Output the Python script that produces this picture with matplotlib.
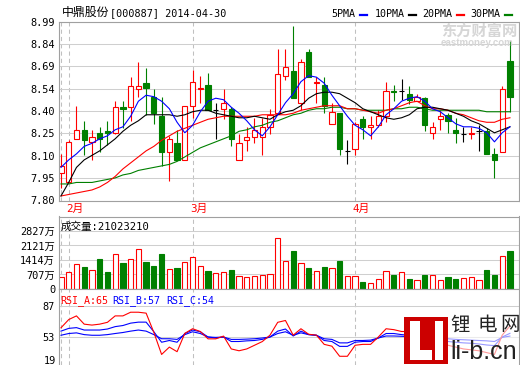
import numpy as np
import matplotlib
matplotlib.use('Agg')
import matplotlib.pyplot as plt
from matplotlib.patches import Rectangle
from matplotlib.lines import Line2D
from matplotlib.transforms import blended_transform_factory

plt.rcParams['font.family'] = ['DejaVu Sans Mono', 'Noto Sans CJK SC']
plt.rcParams['font.size'] = 7.2

title_name = '中鼎股份'
title_code = '[000887] 2014-04-30'
vol_title = '成交量:21023210'

# daily candles, 2014-01-30 .. 2014-04-30
opens = [7.98, 7.92, 8.21, 8.27, 8.19, 8.25, 8.26, 8.25, 8.42, 8.42,
         8.54, 8.58, 8.49, 8.36, 8.12, 8.18, 8.07, 8.43, 8.54, 8.57,
         8.40, 8.41, 8.41, 8.07, 8.20, 8.22, 8.22, 8.29, 8.38, 8.63,
         8.66, 8.45, 8.79, 8.58, 8.57, 8.31, 8.38, 8.13, 8.14, 8.34,
         8.29, 8.30, 8.36, 8.53, 8.53, 8.51, 8.46, 8.48, 8.25, 8.34,
         8.37, 8.27, 8.24, 8.24, 8.26, 8.26, 8.11, 8.12, 8.73]
highs = [8.11, 8.20, 8.43, 8.33, 8.27, 8.29, 8.33, 8.46, 8.46, 8.62,
         8.72, 8.68, 8.54, 8.49, 8.23, 8.27, 8.43, 8.67, 8.63, 8.65,
         8.45, 8.54, 8.42, 8.24, 8.29, 8.35, 8.35, 8.41, 8.81, 8.81,
         8.96, 8.74, 8.81, 8.62, 8.62, 8.45, 8.38, 8.20, 8.32, 8.36,
         8.36, 8.40, 8.59, 8.57, 8.61, 8.56, 8.51, 8.49, 8.32, 8.40,
         8.38, 8.35, 8.29, 8.29, 8.30, 8.28, 8.15, 8.56, 8.86]
lows = [7.88, 7.92, 8.21, 8.10, 8.07, 8.12, 8.17, 8.24, 8.28, 8.33,
        8.49, 8.37, 8.31, 8.03, 7.93, 8.07, 8.07, 8.35, 8.45, 8.40,
        8.21, 8.34, 8.16, 8.07, 8.13, 8.18, 8.10, 8.24, 8.38, 8.60,
        8.48, 8.40, 8.62, 8.45, 8.38, 8.31, 8.10, 8.04, 8.10, 8.21,
        8.21, 8.29, 8.32, 8.46, 8.47, 8.44, 8.46, 8.26, 8.21, 8.27,
        8.25, 8.18, 8.19, 8.21, 8.13, 8.11, 7.95, 8.12, 8.39]
closes = [8.03, 8.19, 8.27, 8.20, 8.22, 8.21, 8.25, 8.42, 8.41, 8.56,
          8.56, 8.55, 8.38, 8.12, 8.21, 8.07, 8.43, 8.59, 8.55, 8.40,
          8.40, 8.45, 8.21, 8.18, 8.22, 8.27, 8.29, 8.37, 8.64, 8.69,
          8.48, 8.72, 8.62, 8.59, 8.43, 8.39, 8.14, 8.13, 8.31, 8.29,
          8.30, 8.36, 8.53, 8.52, 8.53, 8.47, 8.49, 8.30, 8.29, 8.36,
          8.33, 8.25, 8.24, 8.25, 8.26, 8.11, 8.07, 8.54, 8.49]

# moving averages as drawn (they use days before the window too)
ma5 = [8.02, 8.07, 8.11, 8.16, 8.18, 8.21, 8.23, 8.27, 8.29, 8.36,
       8.46, 8.50, 8.49, 8.46, 8.41, 8.32, 8.25, 8.30, 8.39, 8.46,
       8.48, 8.47, 8.42, 8.38, 8.33, 8.27, 8.23, 8.29, 8.37, 8.45,
       8.51, 8.59, 8.63, 8.62, 8.58, 8.50, 8.43, 8.36, 8.30, 8.27,
       8.23, 8.29, 8.37, 8.41, 8.46, 8.48, 8.49, 8.46, 8.41, 8.39,
       8.35, 8.31, 8.29, 8.29, 8.28, 8.25, 8.19, 8.25, 8.29]
ma10 = [7.83, 7.92, 8.02, 8.07, 8.10, 8.13, 8.17, 8.21, 8.26, 8.30,
        8.33, 8.37, 8.37, 8.37, 8.37, 8.36, 8.37, 8.39, 8.40, 8.40,
        8.38, 8.37, 8.36, 8.35, 8.35, 8.36, 8.35, 8.34, 8.37, 8.39,
        8.40, 8.43, 8.48, 8.51, 8.52, 8.52, 8.51, 8.48, 8.45, 8.41,
        8.39, 8.37, 8.35, 8.34, 8.35, 8.37, 8.41, 8.42, 8.42, 8.41,
        8.40, 8.38, 8.36, 8.33, 8.31, 8.28, 8.25, 8.27, 8.29]
ma20 = [7.83, 7.84, 7.85, 7.86, 7.87, 7.89, 7.92, 7.96, 8.01, 8.05,
        8.09, 8.13, 8.16, 8.20, 8.23, 8.26, 8.28, 8.30, 8.32, 8.34,
        8.35, 8.36, 8.36, 8.36, 8.36, 8.36, 8.37, 8.37, 8.37, 8.37,
        8.38, 8.40, 8.41, 8.42, 8.43, 8.43, 8.43, 8.41, 8.41, 8.40,
        8.39, 8.38, 8.40, 8.41, 8.43, 8.45, 8.46, 8.43, 8.41, 8.41,
        8.40, 8.38, 8.37, 8.35, 8.33, 8.32, 8.32, 8.34, 8.35]
ma30 = [7.91, 7.91, 7.92, 7.92, 7.92, 7.93, 7.94, 7.95, 7.97, 7.98,
        8.00, 8.01, 8.02, 8.03, 8.04, 8.06, 8.09, 8.12, 8.15, 8.17,
        8.19, 8.21, 8.23, 8.26, 8.27, 8.29, 8.30, 8.32, 8.33, 8.35,
        8.37, 8.38, 8.40, 8.41, 8.41, 8.42, 8.42, 8.41, 8.41, 8.40,
        8.40, 8.40, 8.40, 8.41, 8.41, 8.42, 8.42, 8.41, 8.40, 8.40,
        8.40, 8.40, 8.40, 8.40, 8.40, 8.39, 8.39, 8.39, 8.39]

# volume, 万
volumes = [570, 829, 1218, 1072, 926, 1462, 829, 1706, 1283, 1446,
           1933, 1316, 1121, 1706, 958, 1023, 1300, 1543, 1121, 877,
           780, 829, 926, 617, 585, 617, 682, 731, 2471, 1365,
           1852, 1267, 1023, 877, 1072, 1023, 1365, 634, 634, 341,
           276, 471, 877, 682, 829, 487, 422, 682, 682, 422,
           585, 487, 536, 585, 438, 926, 682, 1608, 1852]

rsi_a = [63, 72, 76, 67, 66, 67, 69, 76, 76, 80,
         80, 79, 58, 34, 42, 37, 57, 62, 59, 51,
         51, 54, 40, 38, 40, 44, 48, 55, 69, 71,
         55, 62, 56, 55, 45, 43, 32, 32, 44, 45,
         45, 53, 62, 61, 59, 59, 57, 45, 51, 47,
         44, 42, 40, 39, 38, 36, 34, 55, 65]
rsi_b = [59.4, 62.4, 63.2, 60.6, 60.6, 60.6, 61.7, 64.3, 65.5, 68.1,
         69.2, 69.2, 58.7, 47.3, 49.2, 47.3, 56.8, 60.6, 58.7, 53.0,
         51.9, 53.0, 48.1, 48.1, 48.8, 49.2, 50.4, 53.0, 59.4, 61.7,
         54.1, 59.4, 55.6, 54.9, 49.2, 48.1, 42.8, 42.8, 47.3, 48.1,
         48.1, 51.9, 56.8, 56.8, 55.6, 54.9, 54.9, 50.4, 51.9, 50.4,
         48.1, 47.3, 46.6, 46.2, 45.4, 44.3, 43.6, 53.0, 57.0]
rsi_c = [54.9, 56.8, 57.5, 55.6, 54.9, 54.9, 55.6, 56.8, 57.9, 59.4,
         60.6, 59.4, 55.6, 51.1, 51.1, 50.4, 55.6, 58.7, 56.8, 53.0,
         52.6, 53.0, 50.4, 50.4, 50.7, 51.1, 51.9, 53.0, 56.8, 58.7,
         54.9, 57.5, 55.6, 54.9, 51.1, 50.4, 46.6, 46.6, 49.2, 49.2,
         49.6, 51.9, 54.1, 54.1, 53.8, 53.4, 53.0, 51.9, 52.6, 51.9,
         51.1, 50.4, 50.0, 49.6, 49.2, 48.8, 48.1, 52.6, 54.0]

divider_idx = [0, 1, 17, 38]
month_idx = [1, 17, 38]
month_labels = ['2月', '3月', '4月']
price_labels = ['7.80', '7.95', '8.10', '8.25', '8.40', '8.54', '8.69', '8.84', '8.99']
vol_ticks = [0, 707, 1414, 2121, 2827]
vol_labels = ['0', '707万', '1414万', '2121万', '2827万']

RED = '#ff0000'
GREEN = '#008000'
BLUE = '#0000ff'
FRAME = '#a0a0a0'
GRID = '#cfcfcf'

W, H = 520, 365


def box(x0, y0, x1, y1):
    return [x0 / W, 1 - y1 / H, (x1 - x0) / W, (y1 - y0) / H]


def fx(px):
    return px / W


def fy(py):
    return 1 - py / H


fig = plt.figure(figsize=(W / 100, H / 100), dpi=100)
ax = fig.add_axes(box(58.5, 21.5, 519.3, 200.5))
axv = fig.add_axes(box(58.5, 216.5, 519.3, 289))
axr = fig.add_axes(box(58.5, 289, 519.3, 365))

for a in (ax, axv, axr):
    a.set_xlim(-0.32, 59.21)
    a.set_xticks([])
    for s in a.spines.values():
        s.set_color(FRAME)
        s.set_linewidth(0.8)
    a.tick_params(axis='y', length=0, pad=2.5, labelsize=7.4)
    a.grid(axis='y', color=GRID, linewidth=0.75)
    a.set_axisbelow(True)
    for d in divider_idx:
        a.axvline(d, color='#c0c0c0', linewidth=0.75, linestyle=(0, (4, 3)), zorder=0.5)
axr.spines['bottom'].set_visible(False)

# candles
x = np.arange(len(closes))
o, h, l, c = map(np.array, (opens, highs, lows, closes))
up = c > o
down = c < o
flat = c == o
w = 0.68

ax.vlines(x[down], l[down], h[down], color=GREEN, linewidth=0.8)
ax.bar(x[down], o[down] - c[down], bottom=c[down], width=w,
       color=GREEN, edgecolor=GREEN, linewidth=0.8)
ax.vlines(x[up], l[up], o[up], color=RED, linewidth=0.8)
ax.vlines(x[up], c[up], h[up], color=RED, linewidth=0.8)
ax.bar(x[up], c[up] - o[up], bottom=o[up], width=w,
       facecolor='white', edgecolor=RED, linewidth=0.8)
ax.vlines(x[flat], l[flat], h[flat], color='black', linewidth=0.8)
ax.hlines(o[flat], x[flat] - w / 2, x[flat] + w / 2, color='black', linewidth=0.8)

ax.plot(x, ma30, color=GREEN, linewidth=0.8, zorder=3)
ax.plot(x, ma20, color=RED, linewidth=0.8, zorder=3)
ax.plot(x, ma10, color='black', linewidth=0.8, zorder=3)
ax.plot(x, ma5, color=BLUE, linewidth=0.8, zorder=3)

ax.set_ylim(7.80, 8.99)
ax.set_yticks(np.linspace(7.80, 8.99, 9), labels=price_labels)

trans = blended_transform_factory(ax.transData, ax.transAxes)
for m, lab in zip(month_idx, month_labels):
    ax.text(m - 0.3, -0.045, lab, transform=trans, color=RED,
            ha='left', va='center', fontsize=7.8)

# volume
v = np.array(volumes)
axv.bar(x[down], v[down], width=w, color=GREEN, edgecolor=GREEN, linewidth=0.8)
axv.bar(x[~down], v[~down], width=w, facecolor='white', edgecolor=RED, linewidth=0.8)
axv.set_ylim(0, 3534)
axv.set_yticks(vol_ticks, labels=vol_labels)
axv.text(0.004, 0.86, vol_title, transform=axv.transAxes, ha='left', va='center',
         fontsize=7.6)

# rsi
axr.plot(x, rsi_c, color=BLUE, linewidth=0.8)
axr.plot(x, rsi_b, color=BLUE, linewidth=0.8)
axr.plot(x, rsi_a, color=RED, linewidth=0.8)
axr.set_ylim(22.5, 105.3)
axr.set_yticks([53, 87])
tr = blended_transform_factory(axr.transAxes, axr.transData)
axr.text(-0.0055, 27.0, '19', transform=tr, ha='right', va='center', fontsize=7.4)

fig.text(fx(60), fy(300.5), 'RSI_A:%d' % rsi_a[-1], color=RED, ha='left', va='center')
fig.text(fx(112.7), fy(300.5), 'RSI_B:%d' % round(rsi_b[-1]), color=BLUE, ha='left', va='center')
fig.text(fx(166.7), fy(300.5), 'RSI_C:%d' % round(rsi_c[-1]), color=BLUE, ha='left', va='center')

# header
fig.text(fx(61.5), fy(12.5), title_name, ha='left', va='center', fontsize=8.6,
         family=['Noto Sans CJK SC'])
fig.text(fx(110), fy(13.5), title_code, ha='left', va='center', fontsize=7.3)
legend = [('5PMA', 331.7, BLUE), ('10PMA', 375, 'black'),
          ('20PMA', 422.7, RED), ('30PMA', 470.7, GREEN)]
for lab, px, col in legend:
    fig.text(fx(px), fy(14), lab, ha='left', va='center')
    tx = px + len(lab) * 6 + 4
    fig.add_artist(Line2D([fx(tx), fx(tx + 7)], [fy(15), fy(15)],
                          color=col, linewidth=1.6, transform=fig.transFigure))

# watermarks
fig.text(fx(479), fy(31), '东方财富网', ha='center', va='center', color='#d6d6d6',
         fontsize=11, fontweight='bold', family=['Noto Sans CJK SC'])
fig.text(fx(477), fy(42.5), 'eastmoney.com', ha='center', va='center', color='#d6d6d6',
         fontsize=7, fontweight='bold', family=['Liberation Sans'])

fig.add_artist(Rectangle((fx(448), fy(365)), fx(71), 51 / H, transform=fig.transFigure,
                         facecolor='white', alpha=0.6, edgecolor='none', zorder=5))
fig.add_artist(Rectangle((fx(404), fy(364)), fx(44), 47 / H, transform=fig.transFigure,
                         facecolor='#cc0000', edgecolor='none', zorder=6))
for r in [(410, 321, 420, 360), (410, 350, 432, 360), (435, 321, 443, 360)]:
    fig.add_artist(Rectangle((fx(r[0]), fy(r[3])), fx(r[2] - r[0]), (r[3] - r[1]) / H,
                             transform=fig.transFigure, facecolor='white',
                             edgecolor='none', zorder=7))
for ch, px in zip('锂电网', [460.5, 487, 509.5]):
    fig.text(fx(px), fy(325), ch, ha='center', va='center', fontsize=14,
             color='#222222', family=['Noto Sans CJK SC'], zorder=8)
fig.text(fx(484), fy(352), 'li-b.cn', ha='center', va='center', fontsize=18,
         color='#222222', family=['Liberation Sans'], zorder=8)

fig.savefig('out.png', dpi=100)
